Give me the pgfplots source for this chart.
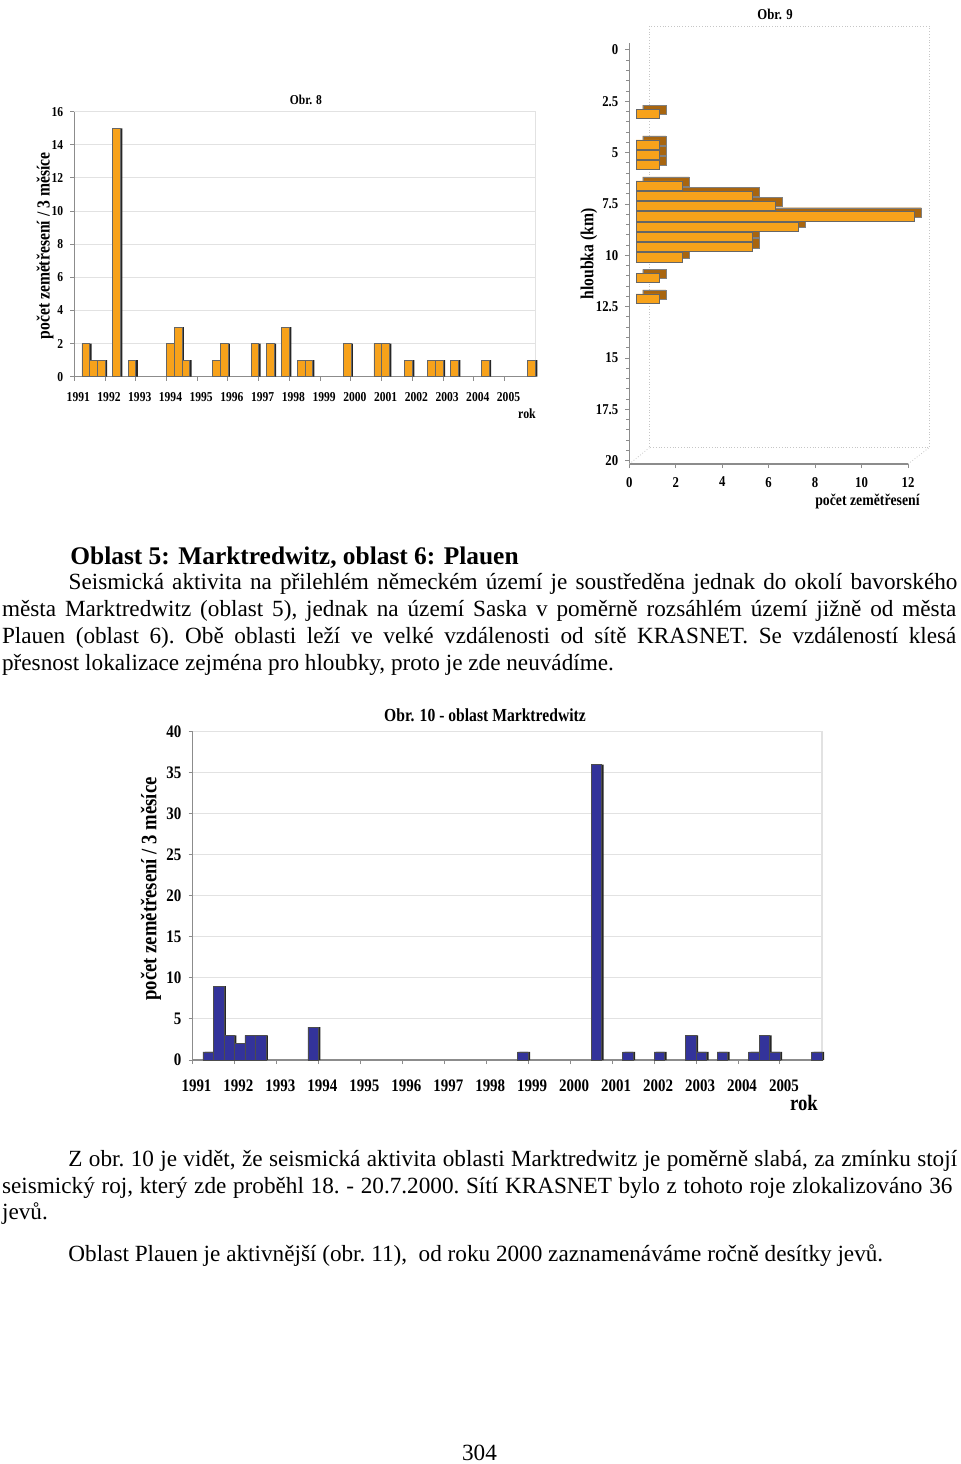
\documentclass[border=0pt]{standalone}
\usepackage{fontspec}
\setmainfont{Liberation Serif}
\newfontfamily\chartfont[FakeStretch=0.85]{Liberation Serif}
\usepackage{pgfplots}
\usepackage{pgfplotstable}
\pgfplotsset{compat=1.18}
\definecolor{barorange}{HTML}{F7A21B}
\definecolor{barshadow}{HTML}{A8650F}
\definecolor{barnavy}{HTML}{33339A}
\definecolor{gridgray}{HTML}{E2E2E2}
\definecolor{axisgray}{HTML}{8C8C8C}
\newcommand\cf[1]{\chartfont\bfseries\fontsize{#1}{#1}\selectfont}
\newcommand\bodyfont{\fontsize{11.6}{13.5}\selectfont\frenchspacing}

% Obr. 8 : quarterly counts
\pgfplotstableread{
x y
1991.375 2
1991.625 1
1991.875 1
1992.375 15
1992.875 1
1994.125 2
1994.375 3
1994.625 1
1995.625 1
1995.875 2
1996.875 2
1997.375 2
1997.875 3
1998.375 1
1998.625 1
1999.875 2
2000.875 2
2001.125 2
2001.875 1
2002.625 1
2002.875 1
2003.375 1
2004.375 1
2005.875 1
}\obrosm

% Obr. 9 : depth histogram (count, depth km)
\pgfplotstableread{
n d
1 3.1
1 4.6
1 5.1
1 5.6
2 6.6
5 7.1
6 7.6
12 8.1
7 8.6
5 9.1
5 9.6
2 10.1
1 11.1
1 12.1
}\obrdevet

% Obr. 10 : Marktredwitz quarterly counts
\pgfplotstableread{
x y
1991.375 1
1991.625 9
1991.875 3
1992.125 2
1992.375 3
1992.625 3
1993.875 4
1998.875 1
2000.625 36
2001.375 1
2002.125 1
2002.875 3
2003.125 1
2003.625 1
2004.375 1
2004.625 3
2004.875 1
2005.875 1
}\obrdeset

\pgfplotsset{chartbase/.style={
  scale only axis, anchor=north west,
  axis x line*=bottom, axis y line*=left,
  axis line style={axisgray, line width=0.6pt, -},
  tick style={axisgray, line width=0.5pt},
  tick align=outside, major tick length=2pt,
  /pgf/number format/assume math mode=true,
  clip=false,
}}

\begin{document}
\begin{tikzpicture}
\path[use as bounding box] (0,0) rectangle (480pt,-732pt);

% ---------------- Obr. 8 ----------------
\begin{axis}[chartbase,
  at={(37.15pt,-55.85pt)}, width=230.5pt, height=132.5pt,
  xmin=1991, xmax=2006, ymin=0, ymax=16,
  xtick={1991,...,2005},
  xticklabels={1991,1992,1993,1994,1995,1996,1997,1998,1999,2000,2001,2002,2003,2004,2005},
  ytick={0,2,...,16}, yticklabels={0,2,4,6,8,10,12,14,16},
  ymajorgrids, major grid style={gridgray, line width=0.5pt},
  xticklabel style={font=\cf{6.8}, xshift=2pt, yshift=-2.5pt},
  yticklabel style={font=\cf{6.8}},
]
\draw[gridgray, line width=0.6pt] (axis cs:1991,16) -- (axis cs:2006,16) -- (axis cs:2006,0);
\addplot[ybar, bar width=0.25, bar shift=1pt, fill=black!85, draw=none] table[x=x,y=y] {\obrosm};
\addplot[ybar, bar width=0.25, bar shift=0pt, fill=barorange, draw=black!60, line width=0.3pt] table[x=x,y=y] {\obrosm};
\end{axis}
\node[anchor=base, font=\cf{6.8}] at (153pt,-52pt) {Obr. 8};
\node[rotate=90, font=\cf{9.2}] at (22.5pt,-123pt) {počet zemětřesení / 3 měsíce};
\node[anchor=base, font=\cf{7}] at (263.5pt,-209pt) {rok};

% ---------------- Obr. 9 ----------------
\begin{axis}[chartbase,
  at={(314.65pt,-21.5pt)}, width=139.35pt, height=210.5pt,
  xmin=0, xmax=12, ymin=-0.34, ymax=20.16, y dir=reverse,
  xtick={0,2,...,12}, xticklabels={0,2,4,6,8,10,12},
  ytick={0,2.5,5,7.5,10,12.5,15,17.5,20},
  yticklabels={0,2.5,5,7.5,10,12.5,15,17.5,20},
  minor y tick num=4, minor tick length=1.5pt,
  xticklabel style={font=\cf{7.5}, yshift=-1pt},
  yticklabel style={font=\cf{7.5}},
]
\draw[gray!45, densely dotted] (axis cs:0.86,-1.17) rectangle (axis cs:12.9,19.37);
\draw[gray!45, densely dotted] (axis cs:0,20.16) -- (axis cs:0.86,19.37);
\draw[gray!45, densely dotted] (axis cs:12,20.16) -- (axis cs:12.9,19.37);
\addplot[xbar, bar width=0.45, bar shift=0pt, xshift=6.7pt, yshift=2pt, fill=barshadow, draw=black!50, line width=0.2pt] table[x=n,y=d] {\obrdevet};
\addplot[xbar, bar width=0.45, bar shift=0pt, xshift=3.35pt, fill=barorange, draw=black!60, line width=0.3pt] table[x=n,y=d] {\obrdevet};
\end{axis}
\node[anchor=base, font=\cf{7.5}] at (387.5pt,-9.65pt) {Obr. 9};
\node[rotate=90, font=\cf{9.2}] at (294.5pt,-127pt) {hloubka (km)};
\node[font=\cf{8.1}] at (433.75pt,-250.8pt) {počet zemětřesení};

% ---------------- Obr. 10 ----------------
\begin{axis}[chartbase,
  at={(96.25pt,-365.85pt)}, width=314.75pt, height=164.15pt,
  xmin=1991, xmax=2006, ymin=0, ymax=40,
  xtick={1991,...,2005},
  xticklabels={1991,1992,1993,1994,1995,1996,1997,1998,1999,2000,2001,2002,2003,2004,2005},
  ytick={0,5,...,40}, yticklabels={0,5,10,15,20,25,30,35,40},
  ymajorgrids, major grid style={gridgray, line width=0.5pt},
  xticklabel style={font=\cf{8.8}, xshift=2pt, yshift=-4.5pt},
  yticklabel style={font=\cf{8.8}},
]
\draw[gridgray, line width=0.6pt] (axis cs:1991,40) -- (axis cs:2006,40) -- (axis cs:2006,0);
\addplot[ybar, bar width=0.25, bar shift=1pt, fill=black!85, draw=none] table[x=x,y=y] {\obrdeset};
\addplot[ybar, bar width=0.25, bar shift=0pt, fill=barnavy, draw=black!70, line width=0.3pt] table[x=x,y=y] {\obrdeset};
\end{axis}
\node[anchor=base, font=\cf{9.2}] at (242.5pt,-360.85pt) {Obr. 10 - oblast Marktredwitz};
\node[rotate=90, font=\cf{11}] at (75.5pt,-444.5pt) {počet zemětřesení / 3 měsíce};
\node[anchor=base, font=\cf{11}] at (402pt,-555pt) {rok};

% ---------------- Text ----------------
\node[anchor=base west, inner sep=0, font=\bfseries\fontsize{12.7}{15}\selectfont] at (35pt,-282pt) {Oblast 5: Marktredwitz, oblast 6: Plauen};
\node[anchor=base west, inner sep=0, font=\bodyfont] at (34.15pt,-294.9pt) {\makebox[444.35pt][s]{Seismická aktivita na přilehlém německém území je soustředěna jednak do okolí bavorského}};
\node[anchor=base west, inner sep=0, font=\bodyfont] at (0.85pt,-308.3pt) {\makebox[477.15pt][s]{města Marktredwitz (oblast 5), jednak na území Saska v poměrně rozsáhlém území jižně od města}};
\node[anchor=base west, inner sep=0, font=\bodyfont] at (0.85pt,-321.7pt) {\makebox[477.15pt][s]{Plauen (oblast 6). Obě oblasti leží ve velké vzdálenosti od sítě KRASNET. Se vzdáleností klesá}};
\node[anchor=base west, inner sep=0, font=\bodyfont] at (0.85pt,-335.1pt) {přesnost lokalizace zejména pro hloubky, proto je zde neuvádíme.};

\node[anchor=base west, inner sep=0, font=\bodyfont] at (34pt,-583pt) {\makebox[444.35pt][s]{Z obr. 10 je vidět, že seismická aktivita oblasti Marktredwitz je poměrně slabá, za zmínku stojí}};
\node[anchor=base west, inner sep=0, font=\bodyfont] at (0.85pt,-596.5pt) {\makebox[475.15pt][s]{seismický roj, který zde proběhl 18. - 20.7.2000. Sítí KRASNET bylo z tohoto roje zlokalizováno 36}};
\node[anchor=base west, inner sep=0, font=\bodyfont] at (0.85pt,-609.5pt) {jevů.};
\node[anchor=base west, inner sep=0, font=\bodyfont] at (34pt,-630.5pt) {Oblast Plauen je aktivnější (obr. 11),\ \ od roku 2000 zaznamenáváme ročně desítky jevů.};
\node[anchor=base, inner sep=0, font=\bodyfont] at (239.75pt,-730pt) {304};
\end{tikzpicture}
\end{document}
